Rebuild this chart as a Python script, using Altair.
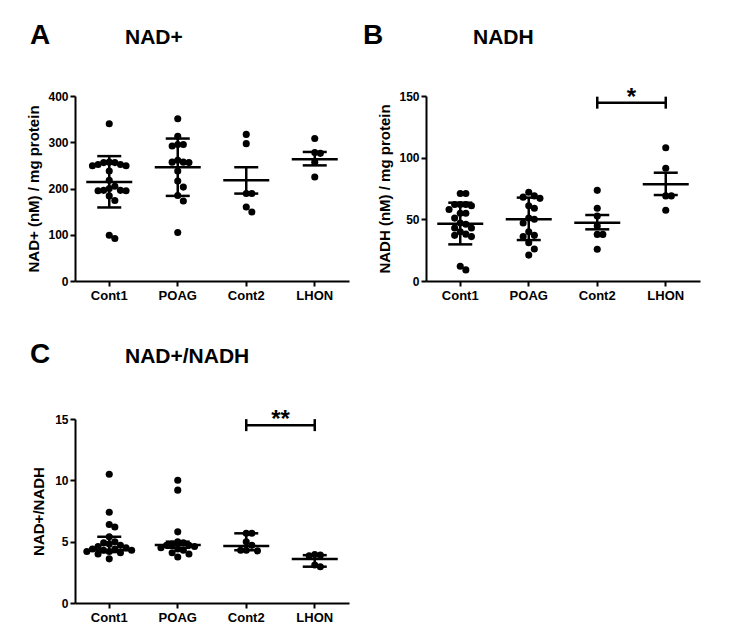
import altair as alt
import pandas as pd

FONT = "Liberation Sans"
groups = ["Cont1", "POAG", "Cont2", "LHON"]

# Panel A: NAD+ (nM) / mg protein
nad_cont1 = [340, 257, 256, 256, 252, 252, 249, 249, 238, 218, 205, 200, 196, 196, 195, 195, 184, 174, 99, 92]
nad_poag = [351, 313, 295, 295, 292, 261, 257, 257, 256, 238, 216, 203, 185, 173, 105]
nad_cont2 = [317, 297, 189, 189, 160, 149]
nad_lhon = [308, 278, 276, 257, 225]
nad_center = [214, 246, 218, 263]
nad_low = [159, 184, 189, 250]
nad_high = [270, 308, 246, 279]

# Panel B: NADH (nM) / mg protein
nadh_cont1 = [71, 71, 62, 62, 62, 61, 58, 55, 55, 51, 47, 46, 43, 43, 40, 38, 37, 36, 12, 9]
nadh_poag = [72, 69, 68, 67, 61, 59, 51, 50, 47, 40, 37, 36, 31, 26, 21]
nadh_cont2 = [73.5, 59, 52.7, 44.6, 37.8, 37.8, 25.7]
nadh_lhon = [108, 91.4, 69, 69, 57.3]
nadh_center = [46.5, 50, 47.3, 78.4]
nadh_low = [29.7, 33.2, 41.9, 69.7]
nadh_high = [63.5, 67.6, 53.5, 87.8]

# Panel C: NAD+/NADH
ratio_cont1 = [10.5, 7.4, 6.4, 6.2, 5.4, 5.0, 4.9, 4.8, 4.7, 4.6, 4.5, 4.4, 4.4, 4.3, 4.3, 4.2, 4.2, 4.1, 4.0, 3.6]
ratio_poag = [10.0, 9.2, 5.8, 5.0, 4.9, 4.8, 4.7, 4.7, 4.6, 4.5, 4.4, 4.3, 4.1, 4.0, 3.75]
ratio_cont2 = [5.68, 5.68, 5.0, 4.7, 4.3, 4.25, 4.3]
ratio_lhon = [3.95, 3.9, 3.85, 3.1, 2.95]
ratio_center = [4.3, 4.73, 4.64, 3.59]
ratio_low = [4.15, 4.5, 4.3, 2.96]
ratio_high = [5.4, 5.0, 5.68, 3.9]

W = 274
STEP = W / 4.0


def swarm(vals, ppu, step=5.6, dmin=6.6):
    placed = []
    offs = [0.0] * len(vals)
    order = sorted(range(len(vals)), key=lambda i: -vals[i])
    for i in order:
        yp = vals[i] * ppu
        for k in [0, 1, -1, 2, -2, 3, -3, 4, -4, 5, -5]:
            if all(not (kk == k and abs(yy - yp) < dmin) for kk, yy in placed):
                placed.append((k, yp))
                offs[i] = k * step
                break
    return offs


def panel(series, center, low, high, ymax, ticks, ytitle, letter, title, h,
          letter_y, sig=None, stars=None, title_pad=6):
    ppu = h / ymax
    rows = []
    for g, vals in zip(groups, series):
        for v, o in zip(vals, swarm(vals, ppu)):
            rows.append({"group": g, "value": v, "off": o})
    df = pd.DataFrame(rows)
    stats = pd.DataFrame({"group": groups, "center": center, "low": low, "high": high})

    xaxis = alt.Axis(title=None, labelAngle=0, labelFont=FONT, labelFontSize=13,
                     labelFontWeight="bold", labelColor="black", labelPadding=3,
                     tickSize=5, tickWidth=2, tickColor="black", domainColor="black",
                     domainWidth=2, grid=False)
    xscale = alt.Scale(domain=groups, paddingInner=0, paddingOuter=0)
    x = alt.X("group:N", sort=groups, scale=xscale, axis=xaxis)
    yscale = alt.Scale(domain=[0, ymax], nice=False, zero=True)
    yaxis = alt.Axis(title=ytitle, values=ticks, labelFont=FONT, labelFontSize=12,
                     labelFontWeight="bold", labelColor="black", labelPadding=2,
                     tickSize=5, tickWidth=2, tickColor="black", domainColor="black",
                     domainWidth=2, grid=False, titleFont=FONT, titleFontSize=15,
                     titleFontWeight="bold", titleColor="black", titlePadding=title_pad)

    pts = alt.Chart(df).mark_circle(size=50, color="black", opacity=1).encode(
        x=x,
        xOffset=alt.XOffset("off:Q", scale=alt.Scale(domain=[-STEP / 2, STEP / 2])),
        y=alt.Y("value:Q", scale=yscale, axis=yaxis),
    )
    base = alt.Chart(stats)
    mean = base.mark_tick(orient="horizontal", color="black", size=46, thickness=2.5,
                          opacity=1).encode(
        x=x, y=alt.Y("center:Q", scale=yscale, axis=yaxis))
    err = base.mark_rule(color="black", strokeWidth=2.5, opacity=1).encode(
        x=x, y=alt.Y("low:Q", scale=yscale, axis=yaxis), y2="high:Q")
    cap_lo = base.mark_tick(orient="horizontal", color="black", size=24, thickness=2.5,
                            opacity=1).encode(
        x=x, y=alt.Y("low:Q", scale=yscale, axis=yaxis))
    cap_hi = base.mark_tick(orient="horizontal", color="black", size=24, thickness=2.5,
                            opacity=1).encode(
        x=x, y=alt.Y("high:Q", scale=yscale, axis=yaxis))

    title_df = pd.DataFrame({"t": [title[0]]})
    tt = alt.Chart(title_df).mark_text(align="left", baseline="alphabetic", font=FONT,
                                       fontSize=21, fontWeight="bold", color="black").encode(
        text="t:N", x=alt.value(title[1]), y=alt.value(letter_y))
    lt = alt.Chart(pd.DataFrame({"t": [letter[0]]})).mark_text(
        align="left", baseline="alphabetic", font=FONT, fontSize=28, fontWeight="bold",
        color="black").encode(text="t:N", x=alt.value(letter[1]), y=alt.value(letter_y))

    layers = [pts, err, cap_lo, cap_hi, mean, lt, tt]
    if sig is not None:
        sdf = pd.DataFrame({"a": [sig[0]], "b": [sig[1]], "y": [sig[2]], "s": [stars]})
        ends = pd.DataFrame({"group": [sig[0], sig[1]], "y": [sig[2], sig[2]]})
        bar = alt.Chart(sdf).mark_rule(color="black", strokeWidth=2.5, opacity=1).encode(
            x=alt.X("a:N", sort=groups, scale=xscale, axis=xaxis), x2="b:N",
            y=alt.Y("y:Q", scale=yscale, axis=yaxis))
        endt = alt.Chart(ends).mark_tick(orient="vertical", color="black", size=12,
                                         thickness=2.5, opacity=1).encode(
            x=x, y=alt.Y("y:Q", scale=yscale, axis=yaxis))
        star = alt.Chart(sdf).mark_text(font=FONT, fontSize=24, fontWeight="bold",
                                        color="black", baseline="alphabetic", align="center",
                                        dx=STEP / 2, dy=2).encode(
            x=alt.X("a:N", sort=groups, scale=xscale, axis=xaxis),
            y=alt.Y("y:Q", scale=yscale, axis=yaxis), text="s:N")
        layers += [bar, endt, star]
    return alt.layer(*layers).properties(width=W, height=h)


pA = panel([nad_cont1, nad_poag, nad_cont2, nad_lhon], nad_center, nad_low, nad_high,
           400, [0, 100, 200, 300, 400], "NAD+ (nM) / mg protein",
           ("A", -45), ("NAD+", 50), 185, -52)
pB = panel([nadh_cont1, nadh_poag, nadh_cont2, nadh_lhon], nadh_center, nadh_low, nadh_high,
           150, [0, 50, 100, 150], "NADH (nM) / mg protein",
           ("B", -63), ("NADH", 47), 185, -52, sig=("Cont2", "LHON", 144.6), stars="*")
pC = panel([ratio_cont1, ratio_poag, ratio_cont2, ratio_lhon], ratio_center, ratio_low, ratio_high,
           15, [0, 5, 10, 15], "NAD+/NADH",
           ("C", -45), ("NAD+/NADH", 50), 184, -56, sig=("Cont2", "LHON", 14.5), stars="**",
           title_pad=8)

chart = alt.vconcat(
    alt.hconcat(pA, pB, spacing=14),
    pC,
    spacing=39,
).properties(
    padding={"left": 18, "top": 14, "right": 5, "bottom": 5},
    background="white",
).configure_view(
    stroke=None
).configure_axis(
    domainColor="black", tickColor="black", domainWidth=2, tickWidth=2,
    domainOpacity=1, tickOpacity=1, labelColor="black", titleColor="black"
)

chart.save("out.html", embed_options={"renderer": "svg", "actions": False})
